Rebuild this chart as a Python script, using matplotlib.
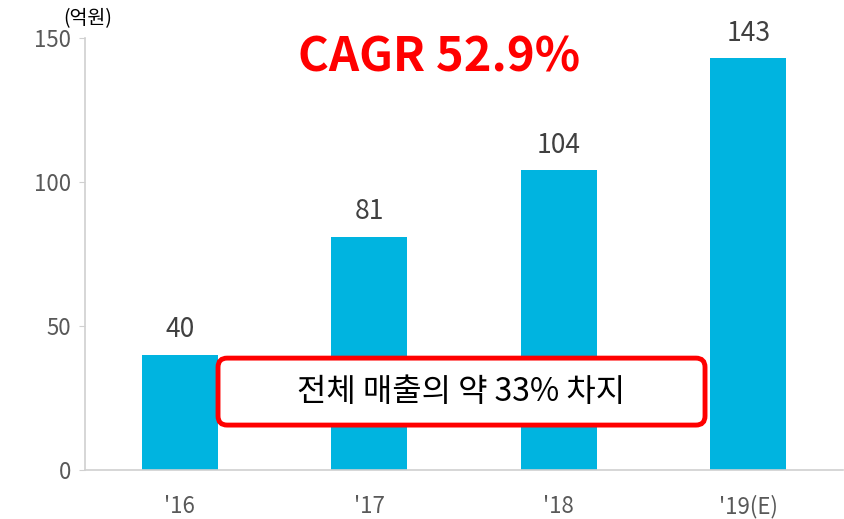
import matplotlib.pyplot as plt
from matplotlib.patches import FancyBboxPatch

plt.rcParams['font.family'] = ['Noto Sans CJK KR', 'DejaVu Sans']

# 데이터
years = ["'16", "'17", "'18", "'19(E)"]
sales = [40, 81, 104, 143]
y_ticks = [0, 50, 100, 150]

fig = plt.figure(figsize=(8.45, 5.19), dpi=100)
ax = fig.add_axes([0.1006, 0.0944, 0.897, 0.8324])

x = range(len(years))
ax.bar(x, sales, width=0.4, color='#00B4E0')

for i, v in enumerate(sales):
    ax.annotate(str(v), (i, v), xytext=(0, 18), textcoords='offset points',
                ha='center', va='center', fontsize=19, color='#404040')

ax.set_xlim(-0.5, 3.5)
ax.set_ylim(0, 150)
ax.set_yticks(y_ticks)
ax.set_xticks(list(x))
ax.set_xticklabels(years)

for s in ['top', 'right']:
    ax.spines[s].set_visible(False)
ax.spines['left'].set_color('#d0d0d0')
ax.spines['bottom'].set_color('#d0d0d0')
ax.spines['left'].set_linewidth(1.2)
ax.spines['bottom'].set_linewidth(1.2)
ax.tick_params(axis='y', colors='#d0d0d0', labelcolor='#595959', labelsize=16, length=4, pad=6)
ax.tick_params(axis='x', length=0, labelcolor='#595959', labelsize=16, pad=18)

ax.text(0.004, 1.045, '(억원)', transform=ax.transAxes, fontsize=14, ha='center', va='center')

fig.text(0.52, 0.89, 'CAGR 52.9%', color='#FF0000', fontsize=34, fontweight='bold',
         ha='center', va='center')

# 네모 박스
box = FancyBboxPatch((0.1755, 0.104), 0.6425, 0.155, transform=ax.transAxes,
                     boxstyle='round,pad=0,rounding_size=0.012', mutation_aspect=1.755,
                     facecolor='white', edgecolor='#FF0000', linewidth=3.5, zorder=5)
ax.add_patch(box)
ax.text(0.4967, 0.181, '전체 매출의 약 33% 차지', transform=ax.transAxes, fontsize=23,
        ha='center', va='center', color='black', zorder=6)

plt.savefig('out.png', dpi=100)
